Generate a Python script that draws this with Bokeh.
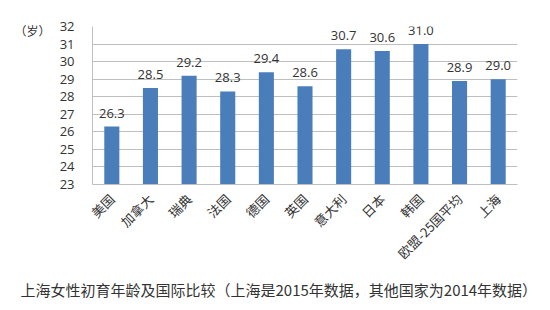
import math
from bokeh.plotting import figure
from bokeh.models import ColumnDataSource, FixedTicker, LabelSet, LinearAxis, Title
from bokeh.core.properties import value
from bokeh.embed import file_html
from bokeh.resources import INLINE

categories = ["美国", "加拿大", "瑞典", "法国", "德国", "英国", "意大利", "日本", "韩国", "欧盟-25国平均", "上海"]
ages = [26.3, 28.5, 29.2, 28.3, 29.4, 28.6, 30.7, 30.6, 31.0, 28.9, 29.0]
y_ticks = [23, 24, 25, 26, 27, 28, 29, 30, 31, 32]
title_text = "上海女性初育年龄及国际比较（上海是2015年数据，其他国家为2014年数据）"
unit_text = "（岁）"

src = ColumnDataSource(dict(cat=categories, age=ages, lab=["%.1f" % a for a in ages]))

CJK = "Noto Sans CJK SC"
TXT = "#333333"

p = figure(x_range=categories, y_range=(23, 32), width=550, height=310,
           output_backend="svg", toolbar_location=None,
           min_border_left=92, min_border_right=33, min_border_top=26, min_border_bottom=126)
p.outline_line_color = None
p.background_fill_color = "white"
p.border_fill_color = "white"

p.vbar(x="cat", top="age", bottom=23, width=0.39, source=src,
       fill_color="#4a7ebb", line_color=None)

labels = LabelSet(x="cat", y="age", text="lab", source=src, y_offset=9,
                  text_align="center", text_baseline="bottom",
                  text_font=value("Open Sans"), text_font_size="13px", text_color=TXT)
p.add_layout(labels)

p.yaxis.ticker = FixedTicker(ticks=y_ticks)
p.yaxis.major_tick_line_color = None
p.yaxis.minor_tick_line_color = None
p.yaxis.axis_line_color = "#bfbfbf"
p.yaxis.major_label_text_font = "Open Sans"
p.yaxis.major_label_text_font_size = "13px"
p.yaxis.major_label_text_color = TXT
p.yaxis.major_label_standoff = 12

# unit label as an outer left axis
unit_axis = LinearAxis(ticker=FixedTicker(ticks=[31.8]),
                       major_label_overrides={31.8: unit_text},
                       axis_line_color=None, major_tick_line_color=None,
                       minor_tick_line_color=None,
                       major_label_text_font=CJK, major_label_text_font_size="12px",
                       major_label_text_color=TXT, major_label_standoff=0)
p.add_layout(unit_axis, "left")

p.xaxis.major_tick_line_color = None
p.xaxis.minor_tick_line_color = None
p.xaxis.axis_line_color = "#bfbfbf"
p.xaxis.major_label_orientation = math.pi / 4
p.xaxis.major_label_text_font = CJK
p.xaxis.major_label_text_font_size = "13px"
p.xaxis.major_label_text_color = TXT
p.xaxis.major_label_standoff = 6

p.xgrid.grid_line_color = None
p.ygrid.grid_line_color = "#bfbfbf"
p.ygrid.grid_line_width = 1

p.add_layout(Title(text=title_text, align="left", offset=-72, text_font=CJK,
                   text_font_size="15px", text_font_style="normal",
                   text_color=TXT, standoff=9), "below")

open("out.html", "w").write(file_html(p, INLINE))
